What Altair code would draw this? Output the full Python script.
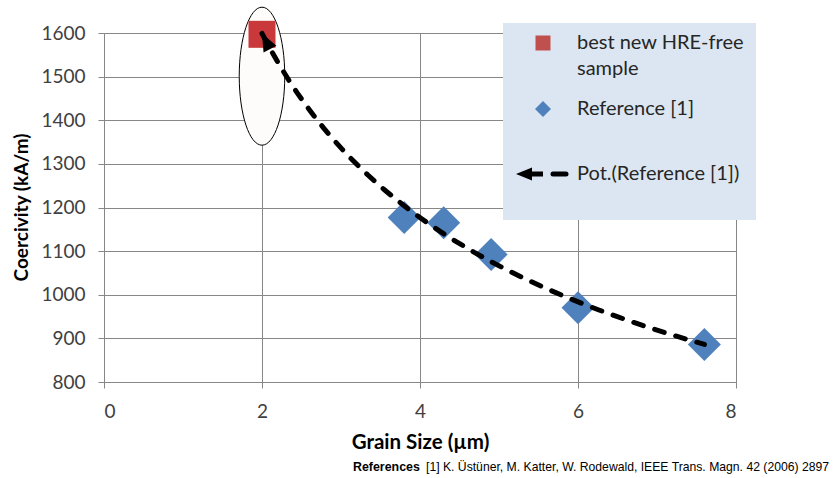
import altair as alt
import pandas as pd

# ---- data ----
ref_grain = [3.8, 4.3, 4.9, 6.0, 7.6]
ref_coercivity = [1177, 1165, 1092, 970, 886]
best_grain = [2.0]
best_coercivity = [1597]
ellipse_grain = [2.0]
ellipse_coercivity = [1501]
x_ticks = [0, 2, 4, 6, 8]
y_ticks = [800, 900, 1000, 1100, 1200, 1300, 1400, 1500, 1600]

FONT = "Lato"
GRID = "#878787"
BLUE = "#4f81bd"
RED = "#c9383a"
LEGEND_RED = "#c0504d"
TXT = "#262626"

ref_df = pd.DataFrame({"grain": ref_grain, "hc": ref_coercivity})
best_df = pd.DataFrame({"grain": best_grain, "hc": best_coercivity})
ell_df = pd.DataFrame({"grain": ellipse_grain, "hc": ellipse_coercivity})
one = pd.DataFrame({"k": [0]})

x_scale = alt.Scale(domain=[0, 8], nice=False, zero=False)
y_scale = alt.Scale(domain=[800, 1600], nice=False, zero=False)

x_axis = alt.Axis(
    values=x_ticks, title="Grain Size (µm)", grid=True, gridColor=GRID, gridWidth=1,
    domainColor=GRID, tickColor=GRID, tickSize=6, labelFont=FONT, labelFontSize=19,
    labelColor="#404040", labelPadding=14, format="d",
    titleFont=FONT, titleFontSize=20.5, titleFontWeight="bold", titleColor="black",
    titleX=316, titleY=60, titleAlign="center", titleBaseline="middle",
)
y_axis = alt.Axis(
    values=y_ticks, title="Coercivity (kA/m)", grid=True, gridColor=GRID, gridWidth=1,
    domainColor=GRID, tickColor=GRID, tickSize=6, labelFont=FONT, labelFontSize=19,
    labelColor="#404040", labelPadding=13, format="d",
    titleFont=FONT, titleFontSize=19, titleFontWeight="bold", titleColor="black",
    titleX=-83, titleY=174, titleAngle=270, titleAlign="center", titleBaseline="middle",
)

X = alt.X("grain:Q", scale=x_scale, axis=x_axis)
Y = alt.Y("hc:Q", scale=y_scale, axis=y_axis)

k = 0.5523
a = 0.33
ellipse_path = (
    f"M0,-1 C{k*a:.4f},-1 {a},-{k} {a},0 C{a},{k} {k*a:.4f},1 0,1 "
    f"C-{k*a:.4f},1 -{a},{k} -{a},0 C-{a},-{k} -{k*a:.4f},-1 0,-1 Z"
)
arrow_path = "M0,0 L0.9,2.2 L-0.9,2.2 Z"

ellipse = alt.Chart(ell_df).mark_point(
    shape=ellipse_path, size=138 * 138, filled=False, fill="#fdfcfa",
    stroke="black", strokeWidth=1, opacity=1, fillOpacity=1
).encode(x=X, y=Y)

diamonds = alt.Chart(ref_df).mark_point(
    shape="diamond", size=1089, filled=True, color=BLUE, opacity=1
).encode(x=X, y=Y)

square = alt.Chart(best_df).mark_point(
    shape="square", size=729, filled=True, color=RED, opacity=1
).encode(x=X, y=Y)

trend = alt.Chart(ref_df).transform_regression(
    "grain", "hc", method="pow", extent=[2, 7.6]
).mark_line(
    color="black", strokeWidth=5, strokeDash=[10, 12], strokeCap="round"
).encode(x=X, y=Y)

arrowhead = alt.Chart(ref_df).transform_regression(
    "grain", "hc", method="pow", extent=[2, 7.6]
).transform_filter("datum.grain <= 2.0001").mark_point(
    shape=arrow_path, size=256, angle=333, filled=True, color="black", opacity=1
).encode(x=X, y=Y)

# ---- legend box ----
leg_box = alt.Chart(one).mark_rect(color="#dce6f2").encode(
    x=alt.value(399), x2=alt.value(652), y=alt.value(-10), y2=alt.value(187)
)
leg_sq = alt.Chart(one).mark_point(
    shape="square", size=225, filled=True, color=LEGEND_RED, opacity=1
).encode(x=alt.value(439), y=alt.value(10))
leg_dia = alt.Chart(one).mark_point(
    shape="diamond", size=256, filled=True, color=BLUE, opacity=1
).encode(x=alt.value(439), y=alt.value(76))
leg_shaft = alt.Chart(one).mark_rule(color="black", strokeWidth=5).encode(
    x=alt.value(420), x2=alt.value(439), y=alt.value(141)
)
leg_dash = alt.Chart(one).mark_rule(color="black", strokeWidth=5, strokeCap="round").encode(
    x=alt.value(449), x2=alt.value(462), y=alt.value(141)
)
leg_arrow = alt.Chart(one).mark_point(
    shape=arrow_path, size=212, angle=270, filled=True, color="black", opacity=1
).encode(x=alt.value(412), y=alt.value(141))


def leg_text(txt, y):
    return alt.Chart(one).mark_text(
        align="left", baseline="middle", font=FONT, fontSize=20, color=TXT
    ).encode(x=alt.value(473), y=alt.value(y), text=alt.value(txt))


legend_texts = [
    leg_text("best new HRE-free", 10),
    leg_text("sample", 36),
    leg_text("Reference [1]", 76),
    leg_text("Pot.(Reference [1])", 141),
]

ref_bold = alt.Chart(one).mark_text(
    align="left", baseline="middle", font="Liberation Sans", fontSize=12.4,
    fontWeight="bold", color="black"
).encode(x=alt.value(249), y=alt.value(434), text=alt.value("References"))
ref_rest = alt.Chart(one).mark_text(
    align="left", baseline="middle", font="Liberation Sans", fontSize=12.2, color="black"
).encode(
    x=alt.value(322), y=alt.value(434),
    text=alt.value("[1] K. Üstüner, M. Katter, W. Rodewald, IEEE Trans. Magn. 42 (2006) 2897"),
)

chart = alt.layer(
    ellipse, diamonds, square, trend, arrowhead,
    leg_box, leg_sq, leg_dia, leg_shaft, leg_dash, leg_arrow,
    *legend_texts, ref_bold, ref_rest,
).properties(
    width=632, height=349,
    autosize=alt.AutoSizeParams(type="none"),
    padding={"left": 104, "top": 33, "right": 99, "bottom": 96},
    background="white",
).configure_view(stroke=None)

chart.save("out.html", embed_options={"renderer": "svg", "actions": False})
